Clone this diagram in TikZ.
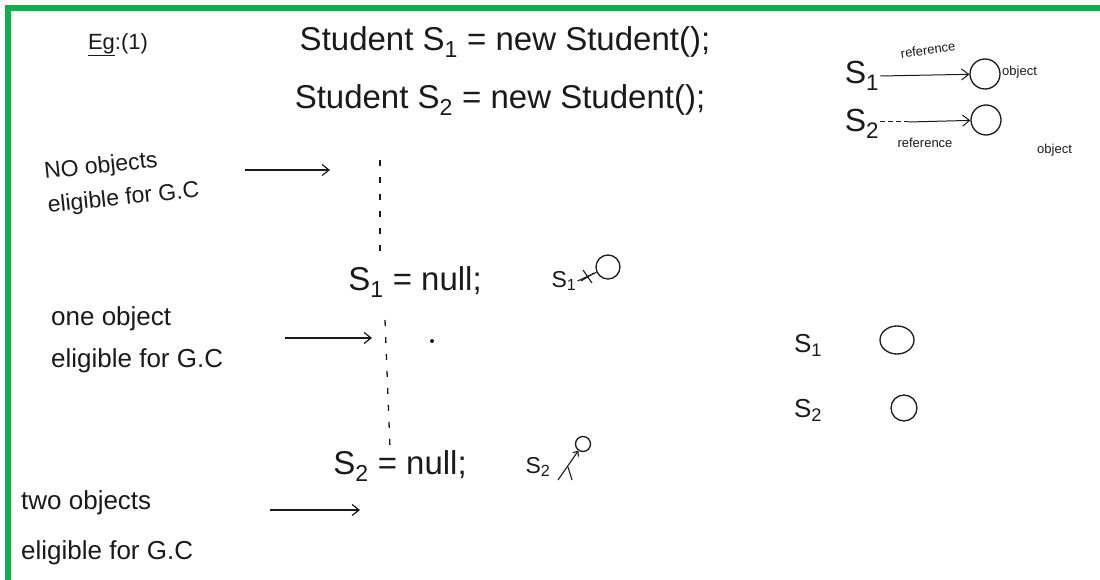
\documentclass[tikz,border=0pt]{standalone}
\usepackage{fontspec}
\setmainfont{Liberation Sans}
\usetikzlibrary{arrows.meta,shapes.geometric}
\definecolor{frame}{HTML}{0DB14B}
\definecolor{ink}{HTML}{1A1A1A}
\tikzset{
  hand/.style={text=ink, inner sep=1pt},
  big/.style={hand, font=\fontsize{33}{35}\selectfont},
  mid/.style={hand, font=\fontsize{26}{42}\selectfont, align=left},
  tiny/.style={hand, font=\fontsize{13}{14}\selectfont},
  conn/.style={draw=ink, line width=1.2pt, -{Straight Barb[length=7pt,width=11pt]}},
  timeline/.style={draw=ink, line width=1.3pt, dash pattern=on 6pt off 11pt},
  obj/.style={draw=ink, line width=1.3pt, circle, inner sep=0pt},
}
\begin{document}
\begin{tikzpicture}[x=1pt,y=-1pt]
\useasboundingbox[fill=white] (0,0) rectangle (1100,580);
\fill[frame] (5,5) rectangle (1100,11);
\fill[frame] (5,5) rectangle (11,580);

\node[hand, font=\fontsize{22}{24}\selectfont] (ex) at (118,45) {\underline{Eg}:(1)};
\node[big] (l1) at (505,42) {Student S\textsubscript{1} = new Student();};
\node[big] (l2) at (500,100) {Student S\textsubscript{2} = new Student();};

% timeline
\coordinate (t0) at (380,160);
\coordinate (t1) at (380,262);
\coordinate (t2) at (385,320);
\coordinate (t3) at (390,448);
\draw[timeline] (t0) -- (t1);
\draw[timeline] (t2) -- (t3);

\node[big] (n1) at (415,282) {S\textsubscript{1} = null;};
\node[big] (n2) at (400,466) {S\textsubscript{2} = null;};

% left labels
\node[mid, anchor=west, rotate=6, font=\fontsize{23}{34}\selectfont] (noobj) at (45,190) {NO objects\\eligible for G.C};
\node[mid, anchor=west] (oneobj) at (50,340) {one object\\eligible for G.C};
\node[mid, anchor=west, font=\fontsize{26}{50}\selectfont] (twoobj) at (20,528) {two objects\\eligible for G.C};

\coordinate (a1s) at (245,170); \coordinate (a1e) at (330,170);
\coordinate (a2s) at (285,338); \coordinate (a2e) at (372,338);
\coordinate (a3s) at (270,510); \coordinate (a3e) at (360,510);
\draw[conn] (a1s) -- (a1e);
\draw[conn] (a2s) -- (a2e);
\draw[conn] (a3s) -- (a3e);
\fill[ink] (432,341) circle (2pt);

% S1 detached
\node[hand, font=\fontsize{23}{25}\selectfont] (s1d) at (564,281) {S\textsubscript{1}};
\node[obj, minimum size=24pt] (o1d) at (608,267) {};
\draw[ink, line width=1.1pt] (s1d.east) -- (o1d);
\draw[ink, line width=1.1pt] (583,270) -- (592,283) (581,281) -- (594,273);

% S2 detached
\node[hand, font=\fontsize{23}{25}\selectfont] (s2d) at (538,467) {S\textsubscript{2}};
\node[obj, minimum size=15pt] (o2d) at (583,444) {};
\draw[ink, line width=1.1pt, -{Straight Barb[length=4pt,width=7pt]}] (558,480) -- (o2d);
\draw[ink, line width=1.1pt] (568,467) -- (572,480);

% right middle
\node[hand, font=\fontsize{26}{28}\selectfont] (rs1) at (808,345) {S\textsubscript{1}};
\node[draw=ink, line width=1.3pt, ellipse, inner sep=0pt, minimum width=34pt, minimum height=28pt] (ro1) at (897,340) {};
\node[hand, font=\fontsize{26}{28}\selectfont] (rs2) at (808,410) {S\textsubscript{2}};
\node[obj, minimum size=26pt] (ro2) at (904,408) {};

% top right legend
\node[hand, font=\fontsize{32}{34}\selectfont] (ts1) at (862,76) {S\textsubscript{1}};
\node[obj, minimum size=30pt] (to1) at (985,74) {};
\node[tiny, anchor=west] (tob1) at (1001,72) {object};
\draw[conn, line width=1pt] (ts1.east) -- (to1);
\node[tiny, rotate=8] (tr1) at (928,50) {reference};
\node[hand, font=\fontsize{32}{34}\selectfont] (ts2) at (862,124) {S\textsubscript{2}};
\node[obj, minimum size=30pt] (to2) at (986,120) {};
\node[tiny, anchor=west] (tob2) at (1036,150) {object};
\coordinate (tm) at (908,122);
\draw[ink, line width=1pt, dash pattern=on 5pt off 3pt] (ts2.east |- tm) -- (tm);
\draw[conn, line width=1pt] (tm) -- (to2);
\node[tiny] (tr2) at (925,143) {reference};

\end{tikzpicture}
\end{document}
